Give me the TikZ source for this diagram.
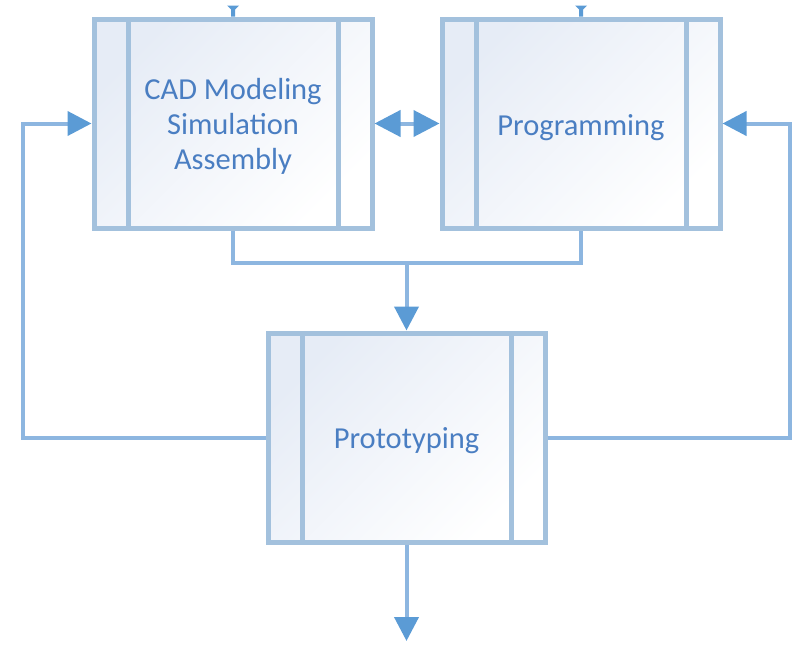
\documentclass[tikz,border=0pt]{standalone}
\usepackage{fontspec}
\setmainfont{Carlito}
\usetikzlibrary{arrows.meta,calc}
\definecolor{boxline}{HTML}{A3C1DD}
\definecolor{connc}{HTML}{8DB6E0}
\definecolor{arrowc}{HTML}{5B9BD5}
\definecolor{textc}{HTML}{4A7EC2}
\definecolor{gradc}{HTML}{E6ECF6}
\tikzset{
  procbox/.style={draw=boxline, line width=5pt, minimum width=278pt, minimum height=209pt,
    top color=gradc, bottom color=white, shading angle=45,
    path picture={
      \draw[boxline, line width=5pt]
        ([xshift=34pt]path picture bounding box.north west) -- ([xshift=34pt]path picture bounding box.south west)
        ([xshift=-34pt]path picture bounding box.north east) -- ([xshift=-34pt]path picture bounding box.south east);
    }},
  boxtext/.style={text=textc, align=center, font=\fontsize{30.5}{35}\selectfont, inner sep=0pt},
  conn/.style={draw=connc, line width=4pt},
  arr/.style={conn, -{Triangle[length=24pt,width=24pt,color=arrowc]}},
  darr/.style={conn, {Triangle[length=26pt,width=26pt,color=arrowc]}-{Triangle[length=26pt,width=26pt,color=arrowc]}},
}
\begin{document}
\begin{tikzpicture}[x=1pt,y=-1pt]
\useasboundingbox (0,0) rectangle (797,645);
\node[procbox] (b1) at (233,123.5) {};
\node[procbox] (b2) at (581,123.5) {};
\node[procbox, minimum width=277pt] (b3) at (406.5,437.5) {};
\node[boxtext] (t1) at ([yshift=-3pt]b1.center) {CAD Modeling\\Simulation\\Assembly};
\node[boxtext] (t2) at ([yshift=-4pt]b2.center) {Programming};
\node[boxtext] (t3) at ([yshift=-3pt]b3.center) {Prototyping};
\coordinate (m) at (406.5,263);
\coordinate (out) at (406.5,641);
\coordinate (L) at (23,437.5);
\coordinate (R) at (790,437.5);
\draw[conn] (b1.south) |- (m) -| (b2.south);
\draw[arr] (m) -- (b3.north);
\draw[arr] (b3.south) -- (out);
\draw[arr] (b3.west) -- (L) |- (b1.west);
\draw[arr] (b3.east) -- (R) |- (b2.east);
\draw[darr] (b1.east) -- (b2.west);
\foreach \b in {b1,b2}{
  \fill[arrowc] ($(\b.north)+(-6,-11)$) -- ++(12,0) -- ++(-4,4) -- ++(0,7) -- ++(-4,0) -- ++(0,-7) -- cycle;
}
\end{tikzpicture}
\end{document}
